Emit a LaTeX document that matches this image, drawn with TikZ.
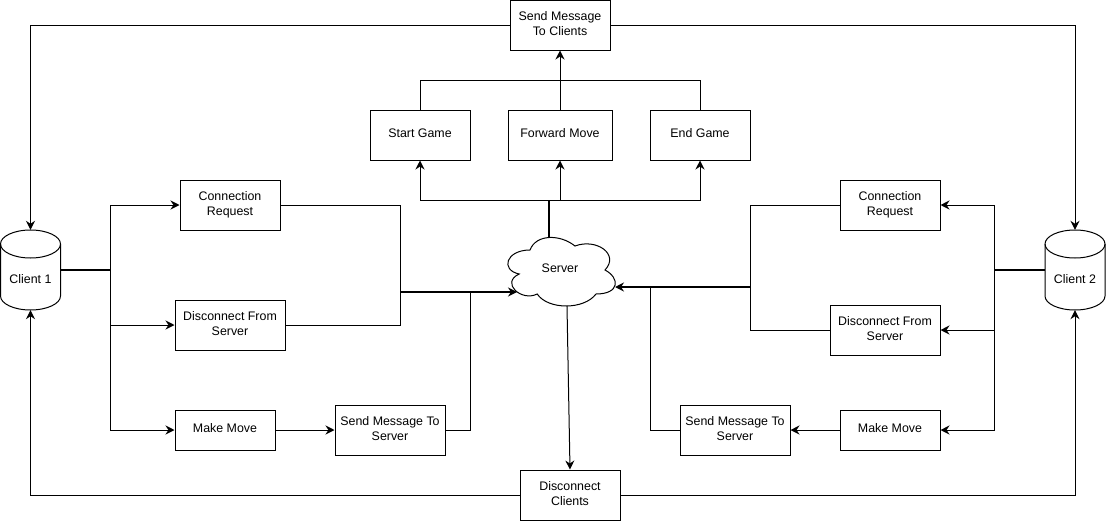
\documentclass[tikz,border=0pt]{standalone}
\usepackage{fontspec}
\setmainfont{Liberation Sans}
\usetikzlibrary{arrows,arrows.meta}
\tikzset{
	box/.style={draw=black, line width=1pt, align=center, inner sep=0pt, text depth=3.5pt, font=\fontsize{12.4}{15}\selectfont},
	db/.style={minimum width=60pt, minimum height=80pt, inner sep=0pt, text height=26.6pt, text depth=0pt, font=\fontsize{12.4}{15}\selectfont},
	wire/.style={line width=1pt},
	pfeil/.style={line width=1pt,-{Stealth[length=9pt,width=9pt,inset=3pt]}},
}

\begin{document}
\begin{tikzpicture}[x=1pt,y=-1pt]

	\useasboundingbox (0,0) rectangle (1106,522);

	% boxes
	\foreach \n/\x/\y/\w/\h/\t in {
		SC/560/25/100/50/{Send Message\\To Clients},
		SG/420/135/100/50/{Start Game},
		FM/560/135/104/50/{Forward Move},
		EG/700/135/100/50/{End Game},
		CR1/230/205/100/50/{Connection\\Request},
		DF1/230/325/110/50/{Disconnect From\\Server},
		MM1/225/430/100/40/{Make Move},
		SM1/390/430/110/50/{Send Message To\\Server},
		CR2/890/205/100/50/{Connection\\Request},
		DF2/885/330/110/50/{Disconnect From\\Server},
		MM2/890/430/100/40/{Make Move},
		SM2/735/430/110/50/{Send Message To\\Server},
		DC/570/495/100/50/{Disconnect\\Clients}}{
		\node[box, minimum width=\w pt, minimum height=\h pt] (\n) at (\x,\y) {\t};
	}

	% clients
	\foreach \n/\x/\t in {C1/30.5/{Client 1}, C2/1075/{Client 2}}{
		\node[db] (\n) at (\x,270) {\t};
		\draw[wire] (\x-30,244) arc[start angle=180, end angle=0, x radius=30pt, y radius=14pt]
			-- (\x+30,296) arc[start angle=0, end angle=-180, x radius=30pt, y radius=14pt] -- cycle;
		\draw[wire] (\x-30,244) arc[start angle=180, end angle=360, x radius=30pt, y radius=14pt];
	}

	% server
	\begin{scope}[shift={(500,230)},x=1.2pt,y=-0.8pt]
		\draw[wire] (25,25) .. controls (5,25) and (0,50) .. (16,55)
			.. controls (0,66) and (18,90) .. (31,80)
			.. controls (40,100) and (70,100) .. (80,80)
			.. controls (100,80) and (100,60) .. (87.5,50)
			.. controls (100,30) and (80,10) .. (62.5,20)
			.. controls (50,5) and (30,5) .. (25,25) -- cycle;
	\end{scope}
	\node[font=\fontsize{12.4}{15}\selectfont] (S) at (560,268) {Server};
	\coordinate (Stop) at (549,237);
	\coordinate (Sbot) at (567,306);
	\coordinate (Sl) at (517,292);
	\coordinate (Sr) at (615,287);

	% joints
	\coordinate (T1) at (110,270);
	\coordinate (T2) at (994,270);
	\coordinate (J1) at (400,292);
	\coordinate (J2) at (470,292);
	\coordinate (J3) at (750,287);
	\coordinate (J4) at (650,287);
	\coordinate (J5) at (549,200);
	\coordinate (J6) at (560,80);

	% client 1 side
	\draw[wire, line width=1.5pt] (C1.east |- T1) -- (T1);
	\foreach \b in {CR1,DF1,MM1}
		\draw[pfeil] (T1) |- (\b.west);
	\draw[pfeil] (MM1) -- (SM1);
	\draw[wire] (CR1) -| (J1);
	\draw[wire] (DF1) -| (J1);
	\draw[wire] (SM1) -| (J2);
	\draw[pfeil, line width=1.5pt] (J1) -- (Sl);

	% client 2 side
	\draw[wire, line width=1.5pt] (C2.west |- T2) -- (T2);
	\foreach \b in {CR2,DF2,MM2}
		\draw[pfeil] (T2) |- (\b.east);
	\draw[pfeil] (MM2) -- (SM2);
	\draw[wire] (CR2) -| (J3);
	\draw[wire] (DF2) -| (J3);
	\draw[wire] (SM2) -| (J4);
	\draw[pfeil, line width=1.5pt] (J3) -- (Sr);

	% game
	\draw[wire, line width=1.5pt] (Stop) -- (J5);
	\foreach \b in {SG,FM,EG}
		\draw[pfeil] (J5) -| (\b.south);
	\draw[wire] (SG.north) |- (J6);
	\draw[wire] (EG.north) |- (J6);
	\draw[pfeil] (FM.north) -- (SC.south);

	% back to the clients
	\draw[pfeil] (SC.west) -| (C1.north);
	\draw[pfeil] (SC.east) -| (C2.north);
	\draw[pfeil] (DC.west) -| (C1.south);
	\draw[pfeil] (DC.east) -| (C2.south);
	\draw[pfeil] (Sbot) -- (DC.north);

\end{tikzpicture}
\end{document}
